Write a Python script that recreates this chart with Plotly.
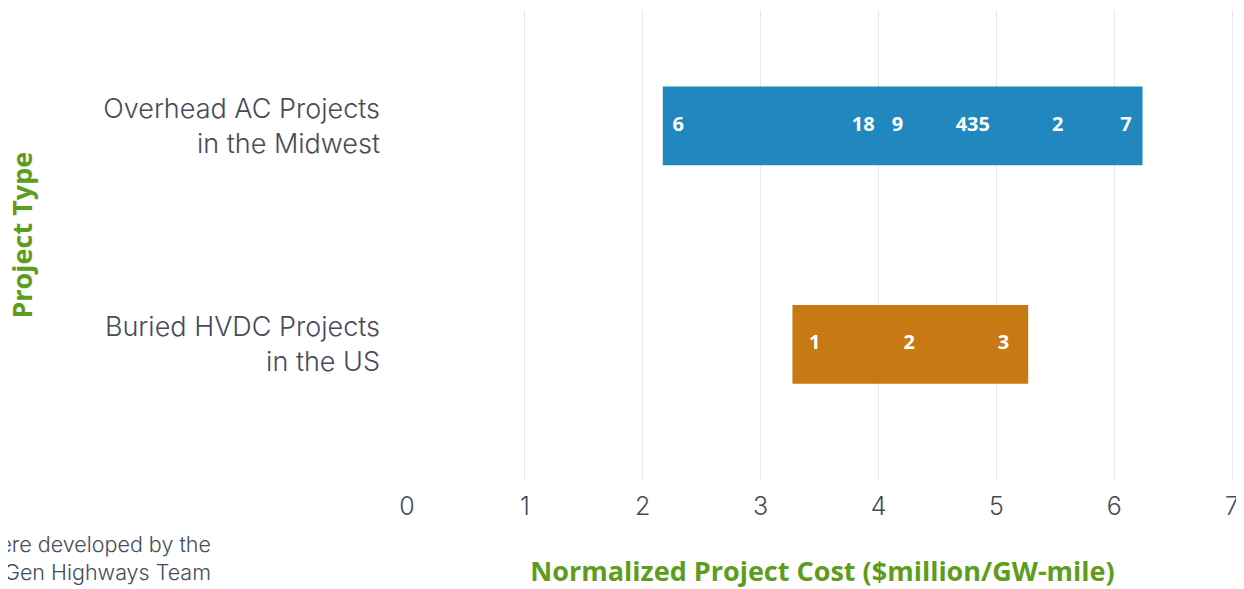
import plotly.graph_objects as go

# Data
categories = ["Buried HVDC Projects<br>in the US", "Overhead AC Projects<br>in the Midwest"]
range_start = [3.27, 2.17]
range_end = [5.27, 6.24]
bar_colors = ["#c77a14", "#2188bf"]

ac_label_x = [2.30, 3.87, 4.16, 4.80, 5.52, 6.10]
ac_label_text = ["6", "18", "9", "435", "2", "7"]
hvdc_label_x = [3.46, 4.26, 5.06]
hvdc_label_text = ["1", "2", "3"]

x_ticks = [0, 1, 2, 3, 4, 5, 6, 7]

GREEN = "#5e9c1c"
GRAY = "#454b5a"

fig = go.Figure()
fig.add_trace(go.Bar(
    y=categories,
    x=[e - s for s, e in zip(range_start, range_end)],
    base=range_start,
    orientation="h",
    marker=dict(color=bar_colors, line=dict(width=0)),
    width=0.36,
    hoverinfo="skip",
    showlegend=False,
))
fig.add_trace(go.Scatter(
    x=ac_label_x, y=[categories[1]] * len(ac_label_x),
    mode="text", text=ac_label_text,
    textfont=dict(family="Open Sans", size=20, color="white", weight="bold"),
    showlegend=False, hoverinfo="skip",
))
fig.add_trace(go.Scatter(
    x=hvdc_label_x, y=[categories[0]] * len(hvdc_label_x),
    mode="text", text=hvdc_label_text,
    textfont=dict(family="Open Sans", size=20, color="white", weight="bold"),
    showlegend=False, hoverinfo="skip",
))

fig.update_layout(
    width=1236, height=581,
    margin=dict(l=399, r=6, t=2, b=109),
    paper_bgcolor="white", plot_bgcolor="white",
    font=dict(family="Inter", color=GRAY),
    xaxis=dict(
        range=[0, 7.05], tickvals=x_ticks, ticktext=[str(v) for v in x_ticks],
        showgrid=True, gridcolor="#e6e6ee", gridwidth=1, zeroline=False,
        showline=False, tickfont=dict(size=25, color=GRAY, weight=300),
        ticklabelstandoff=9,
        title=dict(text="Normalized Project Cost ($million/GW-mile)",
                   font=dict(size=27, color=GREEN, weight="bold", family="Open Sans"),
                   standoff=42),
    ),
    yaxis=dict(
        type="category", categoryorder="array", categoryarray=categories,
        range=[-0.62, 1.53], showgrid=False, zeroline=False, showline=False,
        tickfont=dict(size=27, color=GRAY, weight=300), ticklabelstandoff=26,
        title=dict(text=""),
    ),
)

# y-axis title placed as rotated annotation
fig.add_annotation(
    text="Project Type", textangle=-90,
    xref="paper", yref="paper", x=(14 - 399) / 831, y=0.52,
    xanchor="center", yanchor="middle", showarrow=False,
    font=dict(family="Open Sans", size=27, color=GREEN, weight="bold"),
)

fig.add_annotation(
    text="Figures were developed by the<br>NextGen Highways Team",
    xref="paper", yref="paper", x=(205 - 399) / 831, y=-0.104,
    xanchor="right", yanchor="top", align="right", showarrow=False,
    font=dict(family="Inter", size=21.5, color=GRAY, weight=300),
)

fig.write_html("out.html")
